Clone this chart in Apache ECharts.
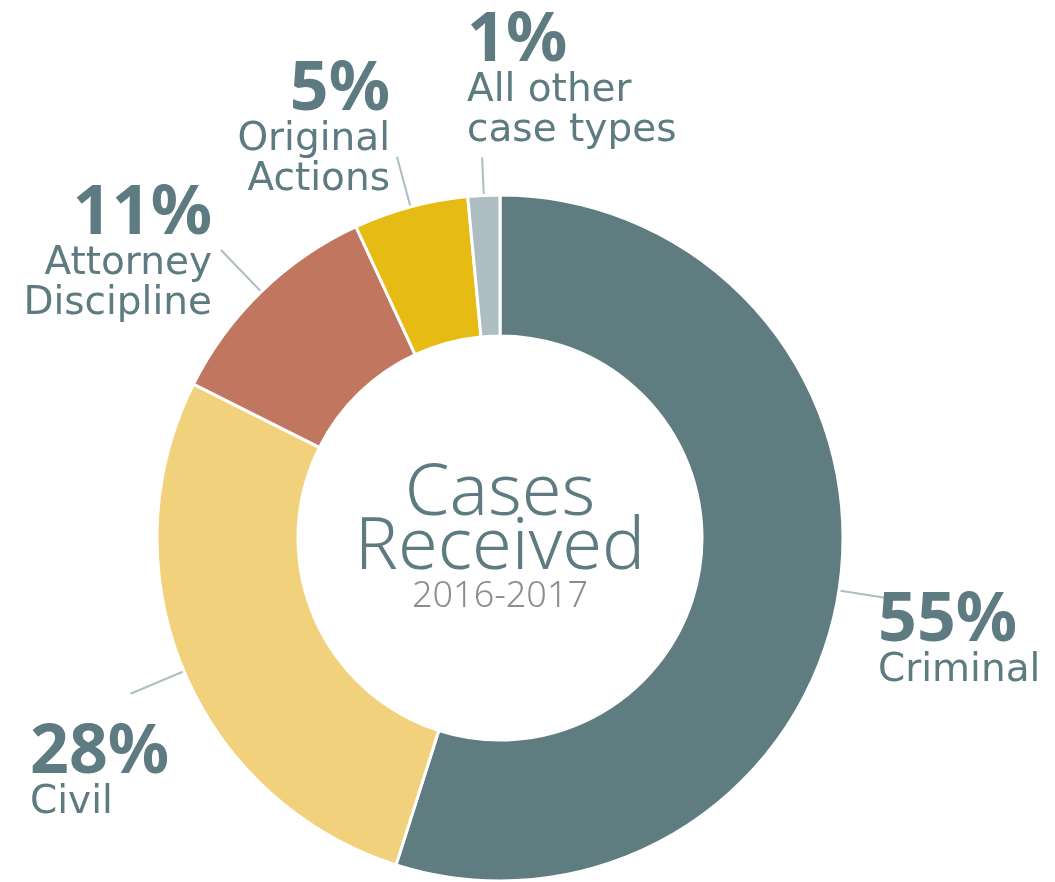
<!DOCTYPE html>
<html>
<head>
<meta charset="utf-8">
<script src="https://cdn.jsdelivr.net/npm/echarts@6/dist/echarts.min.js"></script>
<style>
  html, body { margin: 0; padding: 0; background: #fff; }
  #chart { width: 1055px; height: 882px; }
</style>
</head>
<body>
<div id="chart"></div>
<script>
var names = ['Criminal', 'Civil', 'Attorney\nDiscipline', 'Original\nActions', 'All other\ncase types'];
var shares = [54.9, 27.5, 10.7, 5.4, 1.5];
var pctLabels = ['55%', '28%', '11%', '5%', '1%'];
var colors = ['#5f7c81', '#f1d17c', '#c0765f', '#e6bb13', '#adbdc1'];

var chart = echarts.init(document.getElementById('chart'));
var font = '"Noto Sans", "DejaVu Sans", sans-serif';
var nameFont = '"DejaVu Sans", "Noto Sans", sans-serif';
var ink = '#5d7b80';

// where each label sits (edge distance, box width, padding, line length, text align)
var place = [
  { edge: 7, width: 170, padding: [84, 0, 0, 0], len: 58, align: 'left' },
  { edge: 30, width: 160, padding: [160, 0, 0, 0], len: 58, align: 'left' },
  { edge: 12, width: 200, padding: [10, 0, 0, 0], len: 58, align: 'right' },
  { edge: 190, width: 200, padding: [0, 0, 52, 0], len: 52, align: 'right' },
  { edge: 467, width: 230, padding: [0, 0, 152, 0], len: 38, align: 'left' }
];

function richFor(align) {
  return {
    p: { fontFamily: font, fontSize: 68, fontWeight: 700, lineHeight: 58, color: ink, align: align },
    n: { fontFamily: nameFont, fontSize: 39, fontWeight: 400, lineHeight: 40, color: ink, align: align }
  };
}

var data = [];
for (var i = 0; i < names.length; i++) {
  data.push({
    name: names[i],
    value: shares[i],
    itemStyle: { color: colors[i] },
    label: {
      alignTo: 'edge',
      edgeDistance: place[i].edge,
      width: place[i].width,
      padding: place[i].padding,
      rich: richFor(place[i].align)
    },
    labelLine: { length: place[i].len, length2: 0 }
  });
}

var option = {
  animation: false,
  backgroundColor: '#fff',
  title: {
    left: 500,
    top: 467,
    textAlign: 'center',
    padding: 0,
    text: '{a|Cases}\n{a|Received}\n{b|2016-2017}',
    textStyle: {
      rich: {
        a: { fontFamily: font, fontSize: 72, fontWeight: 300, lineHeight: 54, color: ink, align: 'center' },
        b: { fontFamily: font, fontSize: 36, fontWeight: 300, lineHeight: 44, color: '#8d8d8d', align: 'center' }
      }
    }
  },
  series: [{
    type: 'pie',
    center: [500, 538],
    radius: [202, 343],
    startAngle: 90,
    clockwise: true,
    avoidLabelOverlap: false,
    silent: true,
    itemStyle: { borderColor: '#fff', borderWidth: 3 },
    label: {
      show: true,
      position: 'outside',
      formatter: function (p) {
        var lines = names[p.dataIndex].split('\n').map(function (s) { return '{n|' + s + '}'; });
        return '{p|' + pctLabels[p.dataIndex] + '}\n' + lines.join('\n');
      }
    },
    labelLine: {
      show: true,
      smooth: false,
      lineStyle: { color: '#aebec2', width: 2 }
    },
    emphasis: { disabled: true },
    data: data
  }]
};

chart.setOption(option);
</script>
</body>
</html>
